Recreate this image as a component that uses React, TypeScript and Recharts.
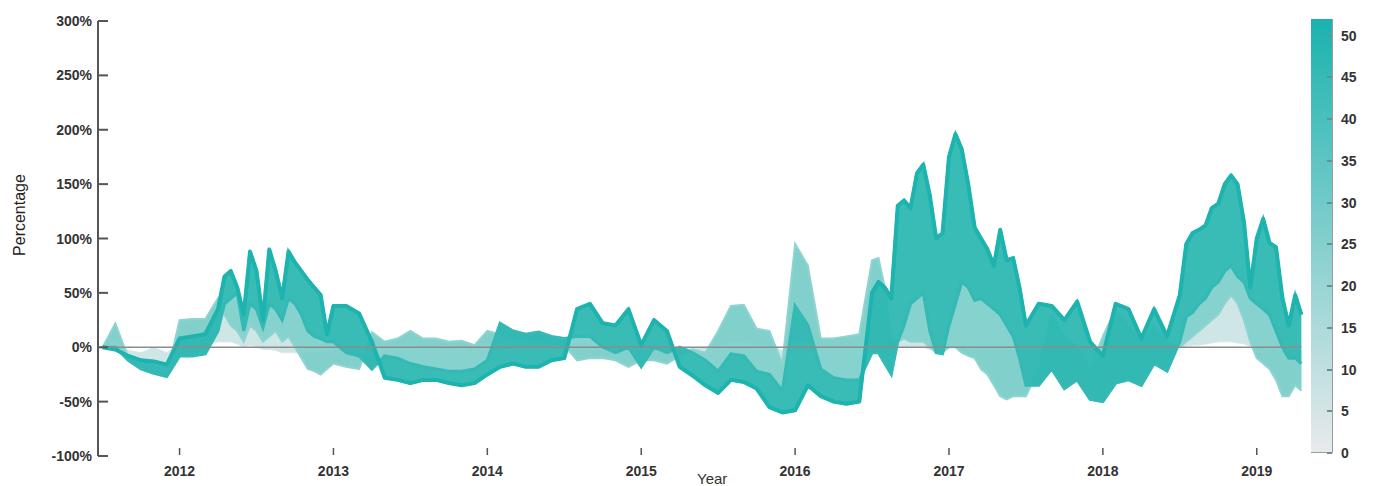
import { ComposedChart, Area, Line, XAxis, YAxis, ReferenceLine } from 'recharts';

// sample dates (decimal years), monthly with half-month detail where the curves are spiky
const dates = [
  2011.5, 2011.583, 2011.667, 2011.75, 2011.833, 2011.917, 2012, 2012.083, 2012.167,
  2012.25, 2012.292, 2012.333, 2012.375, 2012.417, 2012.458, 2012.5, 2012.542, 2012.583, 2012.625,
  2012.667, 2012.708, 2012.75, 2012.792, 2012.833, 2012.875, 2012.917, 2012.958, 2013,
  2013.083, 2013.167, 2013.25, 2013.333, 2013.417, 2013.5, 2013.583, 2013.667, 2013.75, 2013.833,
  2013.917, 2014, 2014.083, 2014.167, 2014.25, 2014.333, 2014.417, 2014.5, 2014.583, 2014.667,
  2014.75, 2014.833, 2014.917, 2015, 2015.083, 2015.167, 2015.25, 2015.333, 2015.417, 2015.5,
  2015.583, 2015.667, 2015.75, 2015.833, 2015.917, 2016, 2016.083, 2016.167, 2016.25, 2016.333, 2016.417,
  2016.5, 2016.542, 2016.583, 2016.625, 2016.667, 2016.708, 2016.75, 2016.792, 2016.833, 2016.875,
  2016.917, 2016.958, 2017, 2017.042, 2017.083, 2017.125, 2017.167, 2017.208, 2017.25, 2017.292,
  2017.333, 2017.375, 2017.417, 2017.458, 2017.5,
  2017.583, 2017.667, 2017.75, 2017.833, 2017.917, 2018, 2018.083, 2018.167, 2018.25, 2018.333, 2018.417,
  2018.5, 2018.542, 2018.583, 2018.625, 2018.667, 2018.708, 2018.75, 2018.792, 2018.833, 2018.875,
  2018.917, 2018.958, 2019, 2019.042, 2019.083, 2019.125, 2019.167, 2019.208, 2019.25, 2019.29,
];

// % change over a 52-week window
const lag52 = [
  0, -2, -8, -12, -13, -16, 8, 10, 12,
  35, 65, 70, 55, 30, 88, 70, 25, 90, 70,
  45, 88, 78, 70, 62, 55, 48, 12, 38,
  38, 31, 5, -28, -30, -33, -30, -30, -33, -35,
  -33, -25, -18, -15, -18, -18, -12, -10, 35, 40,
  22, 20, 35, 2, 25, 15, -18, -26, -35, -42,
  -30, -32, -38, -55, -60, -58, -35, -45, -50, -52, -50,
  50, 60, 55, 45, 130, 135, 128, 160, 168, 140,
  100, 105, 175, 196, 182, 150, 110, 100, 90, 75,
  108, 80, 82, 55, 20,
  40, 38, 25, 42, 5, -8, 40, 35, 8, 35, 10,
  48, 95, 105, 108, 112, 128, 132, 150, 158, 150,
  115, 55, 100, 118, 96, 92, 45, 20, 48, 30,
];

// 30-week window
const lag30 = [
  0, 0, -12, -20, -24, -27, -8, -8, -6,
  15, 40, 45, 50, 15, 40, 35, 18, 40, 35,
  25, 45, 40, 30, 15, 10, 8, 5, 5,
  -5, -8, -20, -8, -10, -15, -18, -20, -22, -22,
  -20, -12, 22, 15, 12, 14, 10, 8, 10, 10,
  0, -5, 0, -18, 0, -5, 0, -5, -12, -22,
  -6, -8, -22, -25, -40, 38, 20, -20, -28, -30, -30,
  -5, -5, -15, -25, 5, 20, 40, 45, 50, 15,
  -5, -6, 20, 40, 60, 55, 43, 45, 40, 35,
  30, 20, 10, -10, -35,
  -35, -20, -38, -30, -48, -50, -33, -30, -35, -15, -22,
  5, 28, 32, 40, 45, 55, 60, 70, 75, 65,
  60, 45, 40, 35, 30, 15, 0, -10, -10, -15,
];

// 12-week window
const lag12 = [
  0, 22, -10, -18, -22, -26, 25, 26, 26,
  45, 30, 20, 15, 5, 20, 15, 5, 10, 15,
  5, 10, 0, -10, -20, -22, -25, -20, -15,
  -18, -20, 14, 5, 8, 15, 8, 8, 5, 6,
  2, 15, 12, 8, 5, 5, 3, 2, -12, -10,
  -10, -12, -18, -12, -12, -15, -8, -2, -5, 15,
  38, 39, 17, 15, -15, 95, 75, 8, 8, 10, 12,
  80, 82, 55, 10, 5, 8, 5, 5, 5, 0,
  -5, -5, 0, 0, -5, -8, -10, -20, -25, -35,
  -45, -48, -45, -45, -45,
  -20, 30, 10, 0, -20, 10, 35, 20, 5, 20, 5,
  0, 5, 10, 15, 20, 25, 30, 40, 48, 40,
  25, 5, -10, -15, -20, -30, -45, -45, -35, -40,
];

// 3-week window
const lag3 = [
  0, 8, -3, -5, 0, -5, 3, 3, 2,
  5, 5, 5, 3, 0, 2, 0, -2, -2, -3,
  -5, -5, -5, -5, -5, -5, -5, -4, -3,
  -2, 0, 3, 2, 2, 3, 0, 0, -2, 0,
  -2, 3, 3, 2, 0, 0, 0, 0, -3, -3,
  -3, -3, -3, -3, -2, -2, -1, -1, 0, 2,
  5, 5, 2, 2, -3, 5, 5, 0, 0, 0, 0,
  3, 2, 0, 0, 0, 0, 0, 0, 0, -2,
  -2, -2, 0, 0, 0, -2, -2, -3, -3, -3,
  -3, -3, -3, -3, -3,
  -2, 2, 0, 0, -2, 0, 2, 2, 0, 2, 0,
  0, 1, 2, 2, 3, 4, 5, 5, 5, 4,
  3, 1, 0, -1, -2, -2, -3, -3, -3, -3,
];

const yearTicks = [2012, 2013, 2014, 2015, 2016, 2017, 2018, 2019];
const pctTicks = [-100, -50, 0, 50, 100, 150, 200, 250, 300];
const barTicks = [0, 5, 10, 15, 20, 25, 30, 35, 40, 45, 50];
const BAR_MAX = 52;

const data = dates.map((t, i) => ({
  t,
  d: lag52[i],
  m: lag30[i],
  l: lag12[i],
  z: lag3[i],
}));

const FONT = '"Liberation Sans", Arial, sans-serif';
const AXIS = '#555';

const YTick = ({ x, y, payload }: any) => (
  <g>
    <line x1={x} x2={x + 10} y1={y} y2={y} stroke={AXIS} strokeWidth={2} />
    <text x={x - 6} y={y} dy={5} textAnchor="end" fontWeight="bold" fontSize={14} fill="#333" fontFamily={FONT}>
      {payload.value}%
    </text>
  </g>
);

const XTick = ({ x, y, payload }: any) => (
  <g>
    <line x1={x} x2={x} y1={y - 8} y2={y - 1} stroke={AXIS} strokeWidth={1.5} />
    <text x={x} y={y} dy={20} textAnchor="middle" fontWeight="bold" fontSize={14} fill="#333" fontFamily={FONT}>
      {payload.value}
    </text>
  </g>
);

export default function App() {
  return (
    <div style={{ position: 'relative', width: 1370, height: 478, fontFamily: FONT }}>
      <ComposedChart width={1370} height={478} data={data} margin={{ top: 13, right: 72, left: 0, bottom: 0 }}>
        <XAxis
          dataKey="t"
          type="number"
          domain={[2011.47, 2019.32]}
          ticks={yearTicks}
          tick={<XTick />}
          tickSize={0}
          tickMargin={0}
          axisLine={false}
          tickLine={false}
          height={30}
          allowDataOverflow
        />
        <YAxis
          domain={[-100, 300]}
          ticks={pctTicks}
          tick={<YTick />}
          tickSize={0}
          tickMargin={0}
          tickLine={false}
          axisLine={{ stroke: AXIS, strokeWidth: 2 }}
          width={90}
          allowDataOverflow
        />
        <Area dataKey={(r: any) => [r.z, r.l]} stroke="#d6e9e8" strokeWidth={1} fill="#c6e3e2" fillOpacity={0.85} isAnimationActive={false} />
        <Area dataKey={(r: any) => [r.l, r.m]} stroke="#8fd4d1" strokeWidth={2} fill="#79cdc9" fillOpacity={0.9} isAnimationActive={false} />
        <Area dataKey={(r: any) => [r.m, r.d]} stroke="#34b9b4" strokeWidth={3} fill="#2eb7b2" fillOpacity={0.95} isAnimationActive={false} />
        <Line dataKey="d" stroke="#1db3ae" strokeWidth={4} strokeLinejoin="round" dot={false} isAnimationActive={false} />
        <ReferenceLine
          segment={[{ x: 2011.52, y: 0 }, { x: 2019.29, y: 0 }]}
          stroke="#8c8c8c"
          strokeWidth={1.5}
        />
      </ComposedChart>

      <div
        style={{
          position: 'absolute', left: 2, top: 207, width: 20, height: 0,
          transform: 'rotate(-90deg)', transformOrigin: 'center', display: 'flex', justifyContent: 'center',
        }}
      >
        <span style={{ fontSize: 16, color: '#222', whiteSpace: 'nowrap', lineHeight: '0px' }}>Percentage</span>
      </div>
      <div style={{ position: 'absolute', left: 689, top: 462, fontSize: 15, color: '#333' }}>Year</div>

      {/* colour bar */}
      <div
        style={{
          position: 'absolute', left: 1303, top: 11, width: 22, height: 434,
          background: 'linear-gradient(to top, #e8eaec, #1ab3ae)',
          borderRight: '1px solid #9a9a9a', borderBottom: '1px solid #9a9a9a', boxSizing: 'border-box',
        }}
      />
      {barTicks.map((v) => {
        const top = 11 + 434 - (v / BAR_MAX) * 434;
        return (
          <div key={v}>
            <div style={{ position: 'absolute', left: 1319, top: top - 1, width: 5, height: 2, background: '#6a8f8e' }} />
            <div style={{ position: 'absolute', left: 1333, top: top - 9, fontSize: 14, fontWeight: 'bold', color: '#333', lineHeight: '18px' }}>
              {v}
            </div>
          </div>
        );
      })}
    </div>
  );
}
